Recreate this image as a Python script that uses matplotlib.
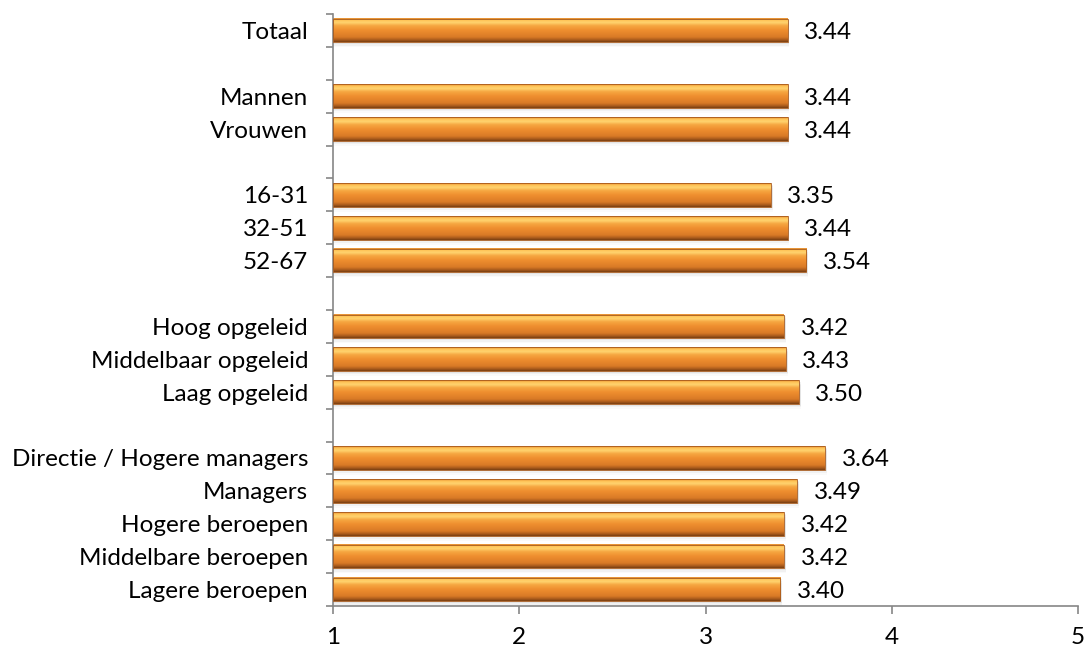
import matplotlib.pyplot as plt
import numpy as np
from matplotlib.colors import LinearSegmentedColormap
from matplotlib.patches import Rectangle

plt.rcParams['font.family'] = ['Lato', 'DejaVu Sans']

# data (top to bottom), groups separated by an empty row
groups = [
    ['Totaal'],
    ['Mannen', 'Vrouwen'],
    ['16-31', '32-51', '52-67'],
    ['Hoog opgeleid', 'Middelbaar opgeleid', 'Laag opgeleid'],
    ['Directie / Hogere managers', 'Managers', 'Hogere beroepen',
     'Middelbare beroepen', 'Lagere beroepen'],
]
values = [3.44,
          3.44, 3.44,
          3.35, 3.44, 3.54,
          3.42, 3.43, 3.50,
          3.64, 3.49, 3.42, 3.42, 3.40]
x_ticks = [1, 2, 3, 4, 5]

# positions with a blank slot between groups
labels, pos = [], []
slot = 0
for g in groups:
    for name in g:
        labels.append(name)
        pos.append(slot)
        slot += 1
    slot += 1
n_slots = slot - 1

# excel-like orange bevel gradient (bottom -> top)
cmap = LinearSegmentedColormap.from_list('bar', [
    (0.00, '#7a3f12'),
    (0.08, '#a85a1c'),
    (0.20, '#d97a26'),
    (0.50, '#ef8f2f'),
    (0.68, '#f6a640'),
    (0.82, '#ffd36f'),
    (0.92, '#ffc457'),
    (1.00, '#e38a30'),
])
grad = np.linspace(1, 0, 64).reshape(-1, 1)

fig = plt.figure(figsize=(10.89, 6.52), dpi=100)
ax = fig.add_axes([0.3058, 0.0706, 0.6842, 0.908])

h = 0.72
x0 = x_ticks[0]
fs = 17.5
for y, v in zip(pos, values):
    # soft shadow
    for k, a in enumerate([0.10, 0.07, 0.04]):
        ax.add_patch(Rectangle((x0, y - h / 2 + 0.05 + 0.05 * k), v - x0 + 0.01, h,
                               facecolor='#808080', edgecolor='none', alpha=a, zorder=1))
    ax.imshow(grad, cmap=cmap, aspect='auto', origin='upper',
              extent=[x0, v, y + h / 2, y - h / 2], zorder=2, interpolation='bilinear')
    ax.add_patch(Rectangle((x0, y - h / 2), v - x0, h, facecolor='none',
                           edgecolor='#a85a1c', linewidth=0.6, zorder=3))
    ax.annotate(f'{v:.2f}', (v, y), xytext=(12, 0), textcoords='offset points',
                va='center_baseline', ha='left', fontsize=fs, color='black')

ax.set_xlim(1, 5)
ax.set_ylim(n_slots - 0.5, -0.5)
ax.set_xticks(x_ticks)
ax.set_xticklabels([str(t) for t in x_ticks], fontsize=fs)
ax.set_yticks(pos)
ax.set_yticklabels(labels, fontsize=fs, va='center_baseline')
ax.set_yticks(np.arange(-0.5, n_slots, 1.0), minor=True)
ax.tick_params(axis='y', which='major', length=0, pad=18)
ax.tick_params(axis='y', which='minor', length=5, color='#868686', width=1.2)
ax.tick_params(axis='x', which='major', length=6, color='#868686', width=1.2, pad=9)

for s in ['top', 'right']:
    ax.spines[s].set_visible(False)
for s in ['left', 'bottom']:
    ax.spines[s].set_color('#868686')
    ax.spines[s].set_linewidth(1.2)

fig.savefig('out.png', dpi=100, facecolor='white')
